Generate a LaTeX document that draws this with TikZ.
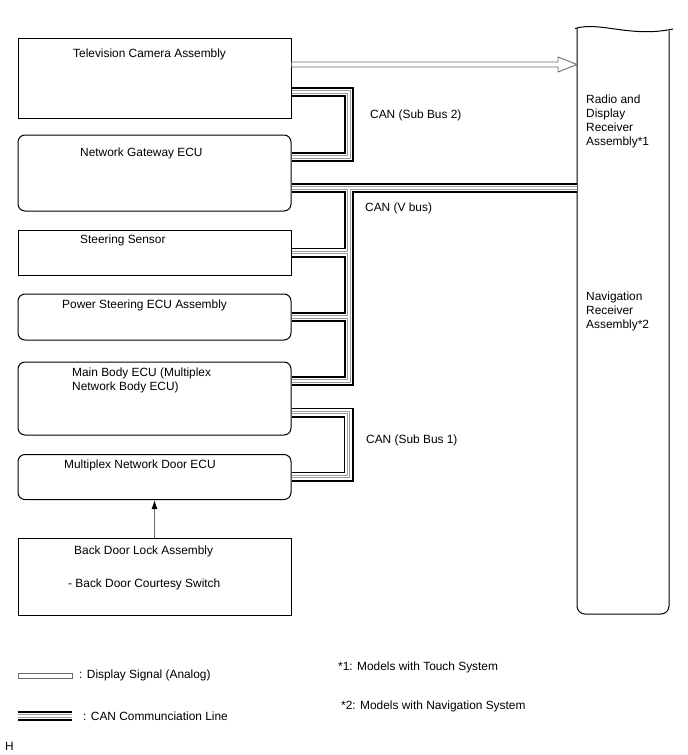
\documentclass[tikz,border=0pt]{standalone}
\usepackage{fontspec}
\setmainfont{Liberation Sans}
\usetikzlibrary{arrows.meta,calc}

\definecolor{sigGray}{HTML}{6E6E6E}
\definecolor{canGray}{HTML}{9C9C9C}

\tikzset{
  unitbox/.style={draw, line width=1pt, minimum width=273pt, inner sep=0pt},
  ecubox/.style={unitbox, rounded corners=7pt},
  lbl/.style={anchor=west, inner sep=0pt},
  canbus/.style={white, line width=1.6pt, line join=miter,
    preaction={draw=black, line width=10pt, line join=miter},
    preaction={draw=white, line width=6.6pt, line join=miter},
    preaction={draw=canGray, line width=3.6pt, line join=miter}},
  sigline/.style={draw=sigGray, line width=0.9pt, fill=white, line join=miter},
}

\begin{document}
\begin{tikzpicture}[x=1pt, y=-1pt, every node/.style={font=\fontsize{11.9}{14}\selectfont}]
    \useasboundingbox (0,0) rectangle (688,755);

    % Units on the left.
    \node[unitbox, minimum height=80pt] (tv) at (154.5,78) {};
    \node[ecubox, minimum height=76pt] (ng) at (154.5,173) {};
    \node[unitbox, minimum height=45pt] (ss) at (154.5,252.5) {};
    \node[ecubox, minimum height=46pt] (ps) at (154.5,317) {};
    \node[ecubox, minimum height=73pt] (mb) at (154.5,398.5) {};
    \node[ecubox, minimum height=45pt] (mnd) at (154.5,477) {};
    \node[unitbox, minimum height=77pt] (bdl) at (154.5,576.5) {};

    \node[lbl] (tvtxt) at (73,54) {Television Camera Assembly};
    \node[lbl] (ngtxt) at (80,153) {Network Gateway ECU};
    \node[lbl] (sstxt) at (80,240) {Steering Sensor};
    \node[lbl] (pstxt) at (62,305) {Power Steering ECU Assembly};
    \node[lbl, anchor=north west, align=left] (mbtxt) at (72,367.5)
        {Main Body ECU (Multiplex\\Network Body ECU)};
    \node[lbl] (mndtxt) at (64,465.5) {Multiplex Network Door ECU};
    \node[lbl] (bdltxt) at (74,551.5) {Back Door Lock Assembly};
    \node[lbl] (bdcstxt) at (68,584) {- Back Door Courtesy Switch};

    % Receiver on the right, torn off at the top.
    \node[minimum width=92pt, minimum height=586pt, inner sep=0pt, outer sep=0pt]
        (recv) at (623,321) {};
    \draw[line width=1pt, rounded corners=8pt] (recv.north west) -- (recv.south west)
        -- (recv.south east) -- ($(recv.north east)+(0,2.5)$);
    \draw[line width=1pt] ($(recv.north west)+(-2,0.5)$)
        .. controls (600,21) and (630,38) .. (673,29);
    \node[lbl, anchor=north west, align=left] (recvtxt1) at (586,94.5)
        {Radio and\\Display\\Receiver\\Assembly*1};
    \node[lbl, anchor=north west, align=left] (recvtxt2) at (586,291.5)
        {Navigation\\Receiver\\Assembly*2};

    % Display signal.
    \coordinate (sigA) at (tv.east |- 0,64.5);
    \coordinate (sigB) at (recv.west |- 0,64.5);
    \draw[sigline] ($(sigA)+(0,-2.5)$) -- ($(sigB)+(-19,-2.5)$) -- ($(sigB)+(-19,-7.5)$)
        -- (sigB) -- ($(sigB)+(-19,7.5)$) -- ($(sigB)+(-19,2.5)$) -- ($(sigA)+(0,2.5)$);

    % CAN (Sub Bus 2).
    \coordinate (sb2t) at (349,92);
    \coordinate (sb2b) at (349,157);
    \draw[canbus] (tv.east |- sb2t) -- (sb2t) -- (sb2b) -- (ng.east |- sb2b);
    \node[lbl] (sb2txt) at (370,115) {CAN (Sub Bus 2)};

    % CAN (V bus).
    \coordinate (vbt) at (349,188);
    \coordinate (vbb) at (349,381);
    \draw[canbus] (ng.east |- vbt) -- (recv.west |- vbt)
        (vbt) -- (vbb) -- (mb.east |- vbb)
        (ss.east) -- (ss.east -| vbt)
        (ps.east) -- (ps.east -| vbt);
    \node[lbl] (vbtxt) at (365,208.5) {CAN (V bus)};

    % CAN (Sub Bus 1).
    \coordinate (sb1t) at (348.5,412.5);
    \coordinate (sb1b) at (348.5,476.5);
    \draw[canbus] (mb.east |- sb1t) -- (sb1t) -- (sb1b) -- (mnd.east |- sb1b);
    \node[lbl] (sb1txt) at (366,440) {CAN (Sub Bus 1)};

    \draw[sigGray, line width=0.9pt, -{Latex[black, length=9pt, width=6pt]}]
        (bdl.north) -- (mnd.south);

    % Legend and notes.
    \node[draw=sigGray, line width=0.9pt, minimum width=54pt, minimum height=5pt,
        inner sep=0pt] (legsig) at (45.5,675.5) {};
    \node[lbl] (legsigtxt) at (79,675.5) {: Display Signal (Analog)};
    \coordinate (legcanA) at (18,716);
    \coordinate (legcanB) at (72,716);
    \draw[canbus] (legcanA) -- (legcanB);
    \node[lbl] (legcantxt) at (83,716) {: CAN Communciation Line};
    \node[lbl] (note1) at (338,667) {*1: Models with Touch System};
    \node[lbl] (note2) at (341,706) {*2: Models with Navigation System};
    \node[lbl] (figid) at (5,746) {H};
\end{tikzpicture}
\end{document}
